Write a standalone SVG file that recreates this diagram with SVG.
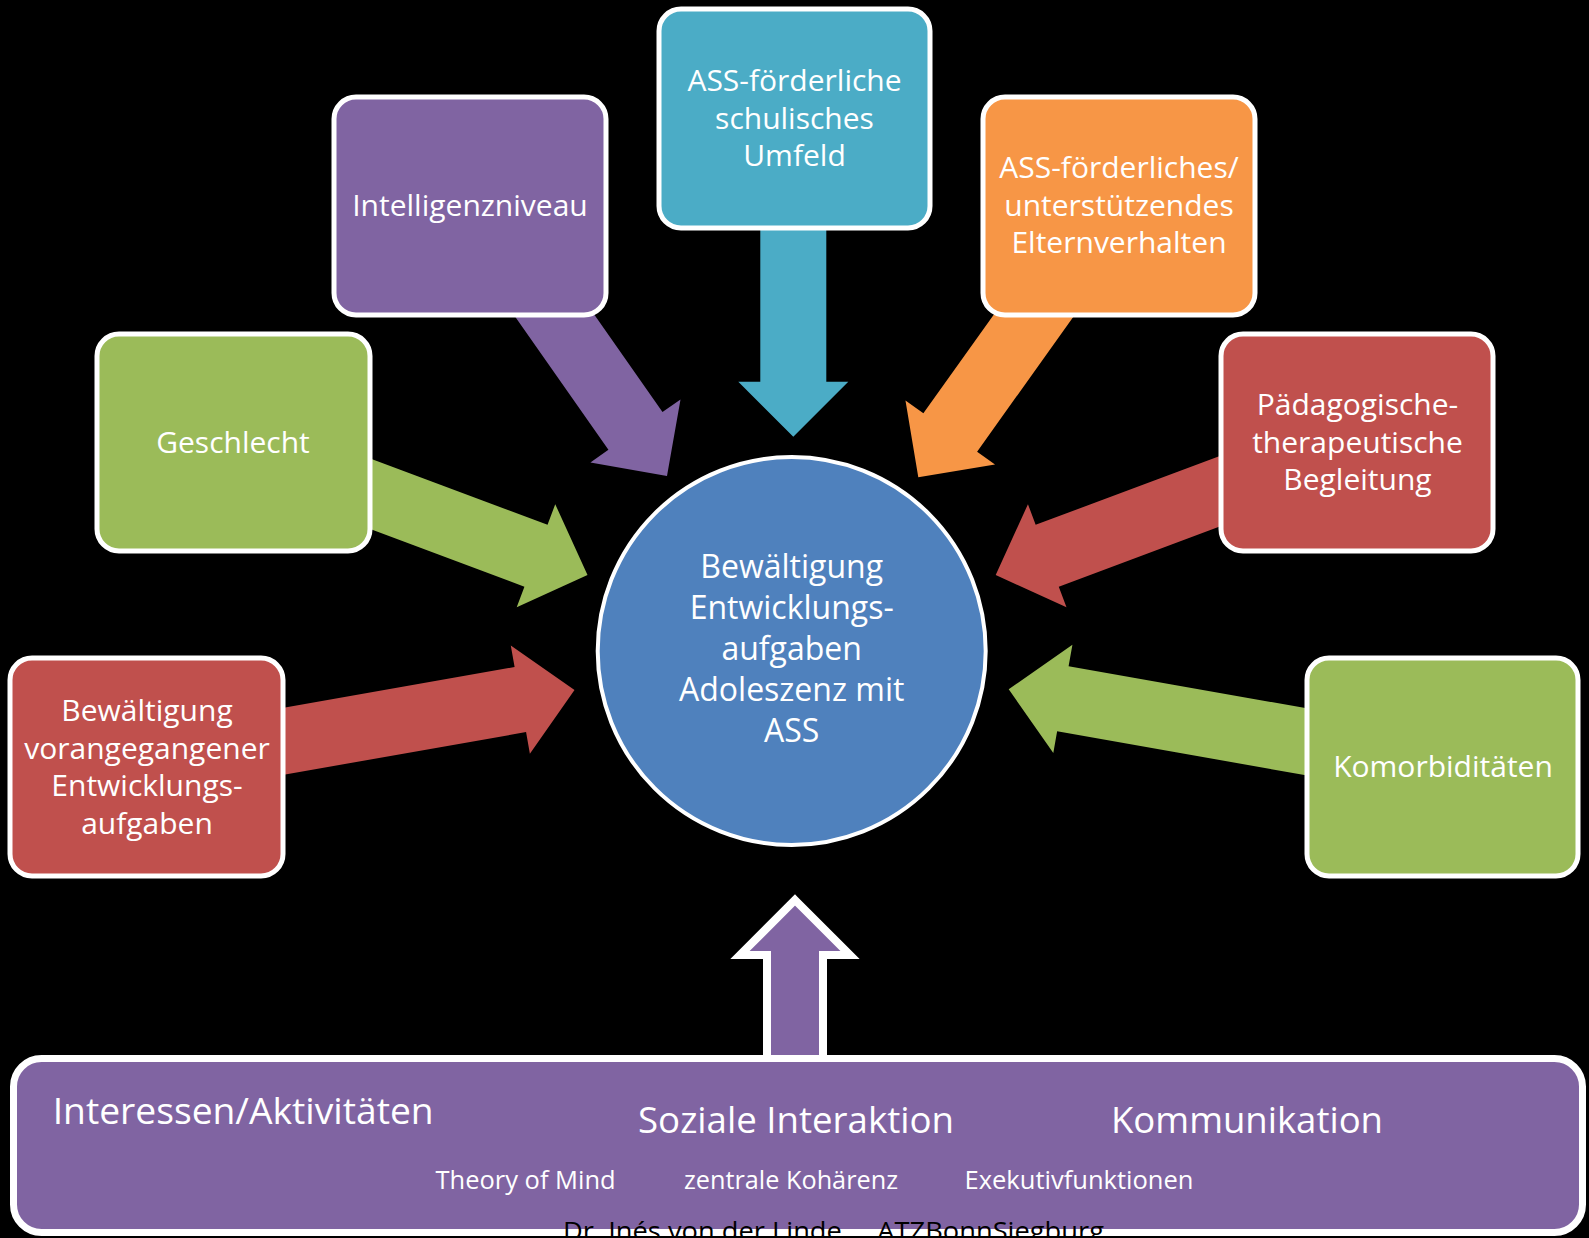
<svg xmlns="http://www.w3.org/2000/svg" xmlns:xlink="http://www.w3.org/1999/xlink" width="1589" height="1238" viewBox="0 0 1589 1238">
<style>
.box{stroke:#fff;stroke-width:5}
.t{font-family:"Open Sans","Liberation Sans",sans-serif;fill:#fff;text-anchor:middle;font-size:30px}
.c{font-size:32px}
.b{font-family:"Open Sans","Liberation Sans",sans-serif;fill:#fff;font-size:37px}
.s{font-size:25px}
.purple{fill:#8064A2}.teal{fill:#4BACC6}.orange{fill:#F79646}.green{fill:#9BBB59}.red{fill:#C0504D}.blue{fill:#4F81BD}
</style>
<defs>
<polygon id="arr" points="0,0 -55,-55 -55,-33 -360,-33 -360,33 -55,33 -55,55"/>
</defs>
<rect x="0" y="0" width="1589" height="1238" fill="#000"/>
<g id="connectors">
<use xlink:href="#arr" class="teal" transform="translate(793.3,436.7) rotate(90)"/>
<use xlink:href="#arr" class="purple" transform="translate(667,476) rotate(55)"/>
<use xlink:href="#arr" class="orange" transform="translate(918.3,477.3) rotate(125.5)"/>
<use xlink:href="#arr" class="green" transform="translate(587.5,575) rotate(20.5)"/>
<use xlink:href="#arr" class="red" transform="translate(995.7,575) rotate(159.5)"/>
<use xlink:href="#arr" class="red" transform="translate(574.5,690) rotate(-10)"/>
<use xlink:href="#arr" class="green" transform="translate(1008.7,689.3) rotate(190)"/>
<polygon class="purple" stroke="#fff" stroke-width="8" points="795,900 850,955 823,955 823,1080 767,1080 767,955 740,955"/>
</g>
<g id="node-intelligenz">
<rect class="box purple" x="334" y="97" width="272" height="218" rx="22"/>
<text class="t" x="470" y="216">Intelligenzniveau</text>
</g>
<g id="node-schule">
<rect class="box teal" x="659" y="9" width="271" height="219" rx="22"/>
<text class="t" x="794.5" y="91">ASS-förderliche</text>
<text class="t" x="794.5" y="128.5">schulisches</text>
<text class="t" x="794.5" y="166">Umfeld</text>
</g>
<g id="node-eltern">
<rect class="box orange" x="983" y="97" width="272" height="218" rx="22"/>
<text class="t" x="1119" y="178">ASS-förderliches/</text>
<text class="t" x="1119" y="215.5">unterstützendes</text>
<text class="t" x="1119" y="253">Elternverhalten</text>
</g>
<g id="node-geschlecht">
<rect class="box green" x="97" y="334" width="273" height="217" rx="22"/>
<text class="t" x="233" y="453">Geschlecht</text>
</g>
<g id="node-paedagogik">
<rect class="box red" x="1221" y="334" width="272" height="217" rx="22"/>
<text class="t" x="1357.5" y="415">Pädagogische-</text>
<text class="t" x="1357.5" y="452.5">therapeutische</text>
<text class="t" x="1357.5" y="490">Begleitung</text>
</g>
<g id="node-vorangegangen">
<rect class="box red" x="10" y="658" width="273" height="218" rx="22"/>
<text class="t" x="147" y="721">Bewältigung</text>
<text class="t" x="147" y="758.5">vorangegangener</text>
<text class="t" x="147" y="796">Entwicklungs-</text>
<text class="t" x="147" y="833.5">aufgaben</text>
</g>
<g id="node-komorbiditaeten">
<rect class="box green" x="1307" y="658" width="271" height="218" rx="22"/>
<text class="t" x="1443" y="777">Komorbiditäten</text>
</g>
<g id="node-center">
<circle class="blue" cx="791.7" cy="651" r="194" stroke="#fff" stroke-width="4"/>
<text class="t c" x="791.7" y="578">Bewältigung</text>
<text class="t c" x="791.7" y="619">Entwicklungs-</text>
<text class="t c" x="791.7" y="660">aufgaben</text>
<text class="t c" x="791.7" y="701">Adoleszenz mit</text>
<text class="t c" x="791.7" y="742">ASS</text>
</g>
<g id="node-bottom">
<rect class="purple" x="13.5" y="1058.5" width="1569" height="174" rx="28" stroke="#fff" stroke-width="7"/>
<text class="b" x="52.7" y="1124.3" textLength="381" lengthAdjust="spacingAndGlyphs">Interessen/Aktivitäten</text>
<text class="b" x="638" y="1132.7" textLength="316" lengthAdjust="spacingAndGlyphs">Soziale Interaktion</text>
<text class="b" x="1111" y="1132.7" textLength="272" lengthAdjust="spacingAndGlyphs">Kommunikation</text>
<text class="b s" x="435.6" y="1189.3" textLength="180" lengthAdjust="spacingAndGlyphs">Theory of Mind</text>
<text class="b s" x="684" y="1189.3" textLength="214" lengthAdjust="spacingAndGlyphs">zentrale Kohärenz</text>
<text class="b s" x="964.5" y="1189.3" textLength="229" lengthAdjust="spacingAndGlyphs">Exekutivfunktionen</text>
<text class="b s" x="563" y="1240" style="fill:#000;white-space:pre" xml:space="preserve" textLength="541" lengthAdjust="spacingAndGlyphs">Dr. Inés von der Linde     ATZBonnSiegburg</text>
</g>
</svg>
